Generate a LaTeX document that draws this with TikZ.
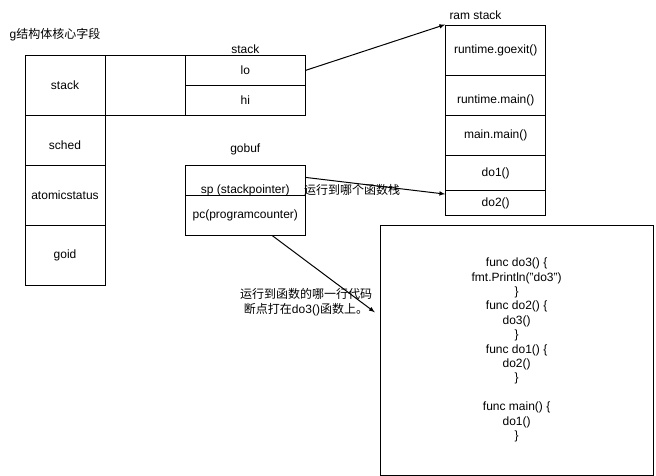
\documentclass[tikz,border=0pt]{standalone}
\usepackage{fontspec}
\setmainfont{Liberation Sans}
\newfontfamily\cjk{Noto Sans CJK SC}

\begin{document}
\begin{tikzpicture}[x=1pt,y=-1pt,line width=1pt,font=\fontsize{12}{14.4}\selectfont]
            \tikzstyle{field}=[draw,rectangle,inner sep=0pt,minimum width=80pt,minimum height=60pt]
            \tikzstyle{member}=[draw,rectangle,inner sep=0pt,minimum width=120pt,minimum height=30pt]
            \tikzstyle{frame}=[draw,rectangle,inner sep=0pt,minimum width=100pt]

            \useasboundingbox (0,0) rectangle (656,476);

            \node (title) at (55,35) {g{\cjk 结构体核心字段}};

            \node (stack) at (65,85.3) [field] {stack};
            \node (sched) at (65,140.3) [field,minimum height=50pt,label={[yshift=-5pt]center:sched}] {};
            \node (atomic) at (65,195.3) [field] {atomicstatus};
            \node (goid) at (65,255.3) [field] {goid};
            \node (empty) at (145.2,85.3) [field] {};

            \node (stacklabel) at (245.3,49) {stack};
            \node (lo) at (245.3,70.3) [member] {lo};
            \node (hi) at (245.3,100.3) [member] {hi};

            \node (gobuflabel) at (245.3,149) {gobuf};
            \node (sp) at (245.3,190.3) [member,minimum height=50pt] {sp (stackpointer)};
            \node (pc) at (245.3,215.3) [member,minimum height=40pt,fill=white] {pc(programcounter)};

            \node (ramlabel) at (475.5,15) {ram stack};
            \node (goexit) at (495.7,50.2) [frame,minimum height=50.3pt] {runtime.goexit()};
            \node (rtmain) at (495.7,95.3) [frame,minimum height=40pt,label={[yshift=-5pt]center:runtime.main()}] {};
            \node (mainmain) at (495.7,135.3) [frame,minimum height=40pt] {main.main()};
            \node (do1) at (495.7,173) [frame,minimum height=35.4pt] {do1()};
            \node (do2) at (495.7,203) [frame,minimum height=24.6pt] {do2()};

            \node (code) at (516.6,350) [draw,rectangle,inner sep=0pt,minimum width=273pt,minimum height=250pt,align=center]
              {func do3() \{\\ fmt.Println("do3")\\ \}\\ func do2() \{\\ do3()\\ \}\\ func do1() \{\\ do2()\\ \}\\ ~\\ func main() \{\\ do1()\\ \}};

            \node (splabel) at (352,190) {\cjk 运行到哪个函数栈};
            \node (pclabel) at (306,302) [align=center] {{\cjk 运行到函数的哪一行代码}\\[1pt]{\cjk 断点打在}do3(){\cjk 函数上。}};

            \draw[-latex] (lo.east) to (goexit.north west);
            \draw[-latex] (sp.12) to (do2.170);
            \draw[-latex, shorten >=6pt] (pc.-37) to (code.166);
          \end{tikzpicture}
\end{document}
